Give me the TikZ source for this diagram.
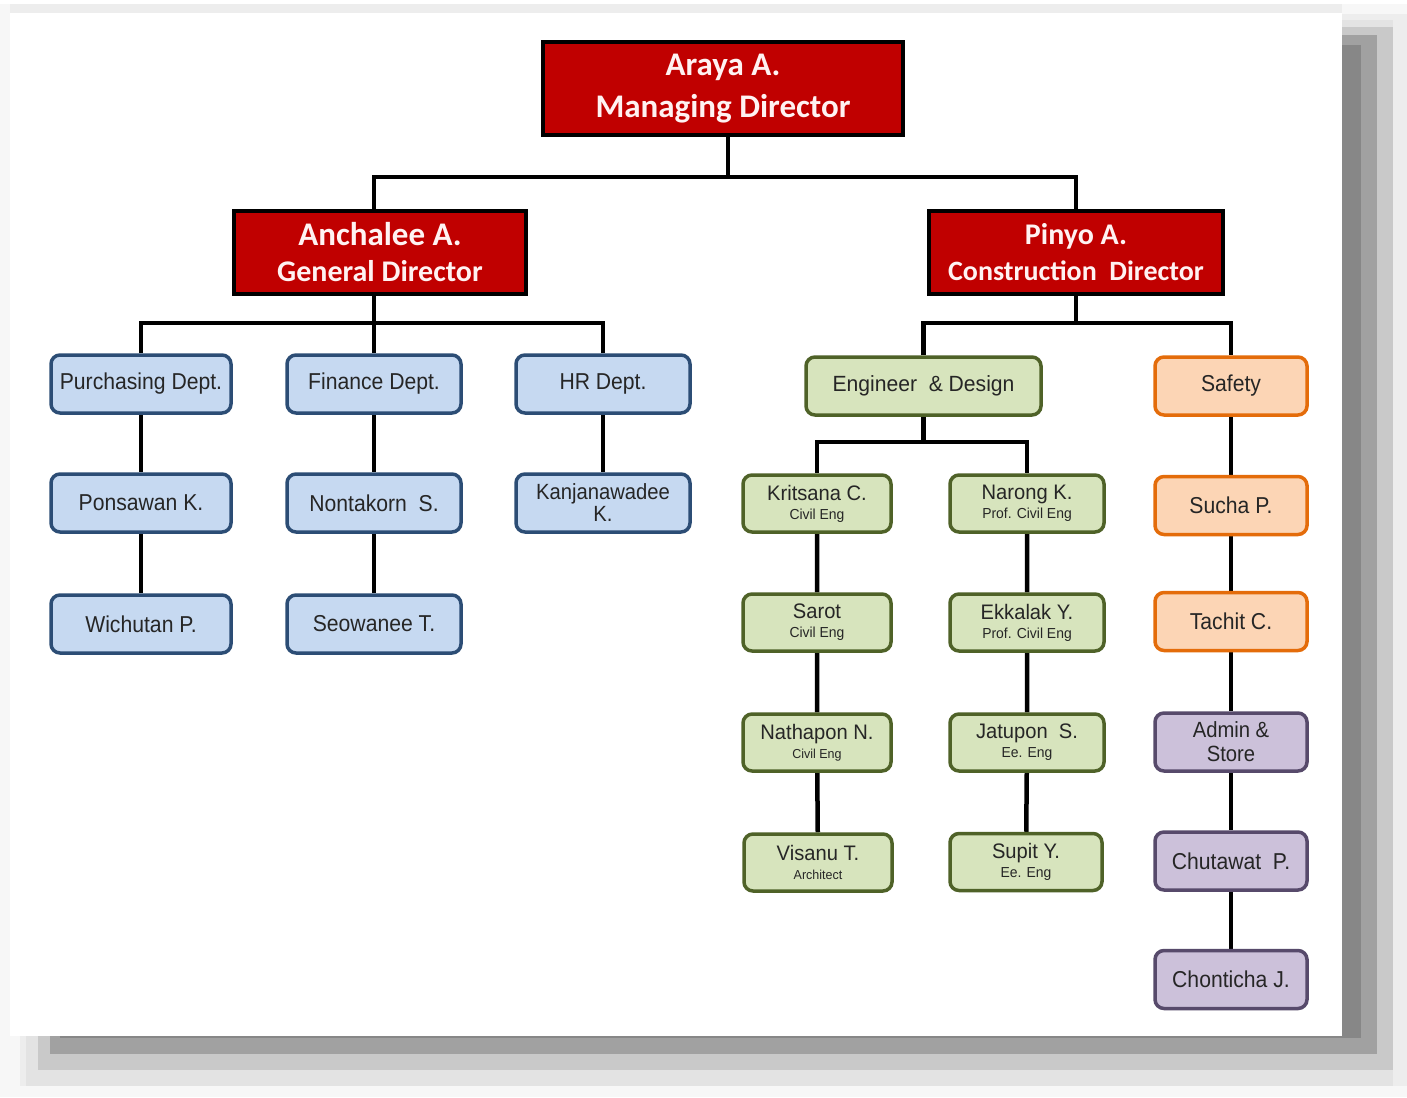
\documentclass[tikz,border=0pt]{standalone}
\usepackage{fontspec}
\setmainfont{Liberation Sans}
\newfontfamily\nf{Liberation Sans}[FakeStretch=0.92]
\newfontfamily\gf{Liberation Sans}[FakeStretch=0.96]
\newfontfamily\calb{Carlito}
\pgfdeclarelayer{back}
\pgfdeclarelayer{lines}
\pgfsetlayers{back,lines,main}
\definecolor{redfill}{HTML}{C00000}
\definecolor{redtext}{HTML}{FFF2F2}
\definecolor{bluefill}{HTML}{C6D9F1}
\definecolor{blueline}{HTML}{2C4D75}
\definecolor{greenfill}{HTML}{D7E4BD}
\definecolor{greenline}{HTML}{4F6228}
\definecolor{orangefill}{HTML}{FCD5B5}
\definecolor{orangeline}{HTML}{E46C0A}
\definecolor{purplefill}{HTML}{CCC1DA}
\definecolor{purpleline}{HTML}{574A6B}
\definecolor{txt}{HTML}{262626}
\newcommand\smalltag[1]{{\fontsize{14.5}{15}\selectfont #1}}
\newcommand\tinytag[1]{{\fontsize{13}{14}\selectfont #1}}
\begin{document}
\begin{tikzpicture}[x=1pt,y=-1pt,
  redbox/.style={draw=black, line width=4pt, fill=redfill, text=redtext, align=center, inner sep=0pt},
  box/.style={rounded corners=9pt, line width=3.5pt, inner sep=0pt, align=center, text=txt, font=\nf\fontsize{23}{23}\selectfont, minimum height=58pt},
  bluebox/.style={box, draw=blueline, fill=bluefill, minimum width=174pt},
  greenbox/.style={box, draw=greenline, fill=greenfill, minimum width=148pt, minimum height=57pt, font=\gf\fontsize{21}{19}\selectfont},
  orangebox/.style={box, draw=orangeline, fill=orangefill, minimum width=152pt},
  purplebox/.style={box, draw=purpleline, fill=purplefill, minimum width=152pt},
  conn/.style={line width=4.5pt, draw=black}
]
\useasboundingbox (0,0) rectangle (1407,1097);
\begin{pgfonlayer}{back}
  \fill[white] (0,0) rectangle (1407,1097);
  \fill[black!3] (0,4) rectangle (1407,1097);
  \fill[black!7] (10,4) rectangle (1342,13);
  \fill[black!7] (20,14) rectangle (1407,1086);
  \fill[black!11] (26,20) rectangle (1393,1086);
  \fill[black!21] (38,27) rectangle (1393,1070);
  \fill[black!37] (50,35) rectangle (1377,1054);
  \fill[black!47] (60,45) rectangle (1361,1038);
  \fill[white] (10,13) rectangle (1342,1036);
\end{pgfonlayer}

% top level
\node[redbox, minimum width=360pt, minimum height=93pt, font=\calb\bfseries\fontsize{33}{42}\selectfont] (araya) at (723,88.5) {Araya A.\\Managing Director};
\node[redbox, minimum width=292pt, minimum height=83pt, font=\calb\bfseries\fontsize{30}{36}\selectfont] (anchalee) at (380,252.5) {{\fontsize{33}{36}\selectfont Anchalee A.}\\General Director};
\node[redbox, minimum width=294pt, minimum height=83pt, font=\calb\bfseries\fontsize{28}{36}\selectfont] (pinyo) at (1076,252.5) {{\fontsize{30}{36}\selectfont Pinyo A.}\\Construction\ \ Director};

% left branch
\node[bluebox, minimum width=180pt] (purch) at (141,384) {Purchasing Dept.};
\node[bluebox] (fin) at (374,384) {Finance Dept.};
\node[bluebox] (hr) at (603,384) {HR Dept.};
\node[bluebox, minimum width=180pt] (pons) at (141,503) {Ponsawan K.};
\node[bluebox] (nont) at (374,503) {Nontakorn\ \ S.};
\node[bluebox, font=\nf\fontsize{22}{22}\selectfont] (kanj) at (603,503) {Kanjanawadee\\K.};
\node[bluebox, minimum width=180pt] (wich) at (141,624) {Wichutan P.};
\node[bluebox] (seow) at (374,624) {Seowanee\ T.};

% right branch
\node[greenbox, minimum width=235pt, minimum height=58pt, font=\gf\fontsize{22}{22}\selectfont] (eng) at (923.5,386) {Engineer\ \ \&\ Design};
\node[greenbox] (kri) at (817,503.5) {Kritsana C.\\\smalltag{Civil Eng}};
\node[greenbox, minimum width=154pt] (nar) at (1027,503.5) {Narong\ K.\\\smalltag{Prof. Civil Eng}};
\node[greenbox] (sar) at (817,622.5) {Sarot\\\smalltag{Civil Eng}};
\node[greenbox, minimum width=154pt] (ekk) at (1027,622.5) {Ekkalak Y.\\\smalltag{Prof. Civil Eng}};
\node[greenbox] (nat) at (817,742.5) {Nathapon N.\\\tinytag{Civil Eng}};
\node[greenbox, minimum width=154pt] (jat) at (1027,742.5) {Jatupon\ \ S.\\\smalltag{Ee. Eng}};
\node[greenbox] (vis) at (818,862.5) {Visanu T.\\\tinytag{Architect}};
\node[greenbox, minimum width=152pt] (sup) at (1026,862) {Supit Y.\\\smalltag{Ee. Eng}};

\node[orangebox] (safety) at (1231,386) {Safety};
\node[orangebox] (sucha) at (1231,505.5) {Sucha P.};
\node[orangebox] (tachit) at (1231,621.5) {Tachit\ C.};
\node[purplebox, font=\nf\fontsize{22}{24}\selectfont] (admin) at (1231,742) {Admin \&\\Store};
\node[purplebox] (chut) at (1231,861) {Chutawat\ \ P.};
\node[purplebox] (chon) at (1231,979.5) {Chonticha J.};

\coordinate (bus0) at (728,177);
\coordinate (bus1) at (374,323);
\coordinate (bus2) at (1077,323);
\coordinate (bus3) at (922,442);

\begin{pgfonlayer}{lines}
  \draw[conn] (bus0 |- araya.south) -- (bus0);
  \draw[conn] (fin |- anchalee.north) |- (bus0) -| (pinyo);
  \draw[conn] (fin |- anchalee.south) -- (fin);
  \draw[conn] (purch) |- (bus1) -| (hr);
  \draw[conn] (pinyo) -- (pinyo |- bus2);
  \draw[conn] (eng) |- (bus2) -| (safety);
  \draw[conn] (eng) -- (eng |- bus3);
  \draw[conn] (kri) |- (bus3) -| (nar);
  \draw[conn] (purch) -- (pons) -- (wich);
  \draw[conn] (fin) -- (nont) -- (seow);
  \draw[conn] (hr) -- (kanj);
  \draw[conn] (kri) -- (sar) -- (nat) -- (vis);
  \draw[conn] (nar) -- (ekk) -- (jat) -- (sup);
  \draw[conn] (safety) -- (sucha) -- (tachit) -- (admin) -- (chut) -- (chon);
\end{pgfonlayer}
\end{tikzpicture}
\end{document}
